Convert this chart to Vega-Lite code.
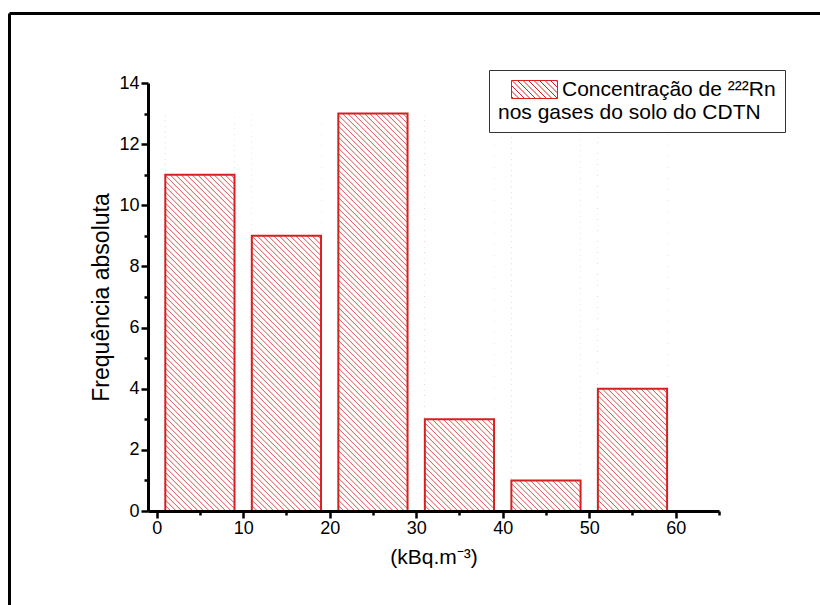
{
  "$schema": "https://vega.github.io/schema/vega-lite/v6.json",
  "width": 811,
  "height": 592,
  "autosize": {"type": "none"},
  "padding": {"left": 9, "top": 13, "right": 0, "bottom": 0},
  "background": "white",
  "data": {
    "values": [
      {"start": 1, "end": 9, "count": 11},
      {"start": 11, "end": 19, "count": 9},
      {"start": 21, "end": 29, "count": 13},
      {"start": 31, "end": 39, "count": 3},
      {"start": 41, "end": 49, "count": 1},
      {"start": 51, "end": 59, "count": 4}
    ]
  },
  "resolve": {
    "scale": {"x": "independent", "y": "independent"},
    "axis": {"x": "independent", "y": "independent"}
  },
  "layer": [
    {
      "mark": {
        "type": "point",
        "shape": "M0 -5.5l5.5 5.5M0 -11l11 11M0 -16.5l16.5 16.5M0 -22l22 22M0 -27.5l27.5 27.5M0 -33l33 33M0 -38.5l38.5 38.5M0 -44l44 44M0 -49.5l49.5 49.5M0 -55l55 55M0 -60.5l60.5 60.5M0 -66l66 66M0 -71.5l69 69M0 -77l69 69M0 -82.5l69 69M0 -88l69 69M0 -93.5l69 69M0 -99l69 69M0 -104.5l69 69M0 -110l69 69M0 -115.5l69 69M0 -121l69 69M0 -126.5l69 69M0 -132l69 69M0 -137.5l69 69M0 -143l69 69M0 -148.5l69 69M0 -154l69 69M0 -159.5l69 69M0 -165l69 69M0 -170.5l69 69M0 -176l69 69M0 -181.5l69 69M0 -187l69 69M0 -192.5l69 69M0 -198l69 69M0 -203.5l69 69M0 -209l69 69M0 -214.5l69 69M0 -220l69 69M0 -225.5l69 69M0 -231l69 69M0 -236.5l69 69M0 -242l69 69M0 -247.5l69 69M0 -253l69 69M0 -258.5l69 69M0 -264l69 69M0 -269.5l69 69M0 -275l69 69M0 -280.5l69 69M0 -286l69 69M0 -291.5l69 69M0 -297l69 69M0 -302.5l69 69M0 -308l69 69M0 -313.5l69 69M0 -319l69 69M0 -324.5l69 69M0 -330l69 69M0 -335.5l69 69M0 -341l69 69M0 -346.5l69 69M0 -352l69 69M0 -357.5l69 69M0 -363l69 69M0 -368.5l69 69M0 -374l69 69M0 -379.5l69 69M0 -385l69 69M0 -390.5l69 69M0 -396l69 69M4.5 -397l64.5 64.5M10 -397l59 59M15.5 -397l53.5 53.5M21 -397l48 48M26.5 -397l42.5 42.5M32 -397l37 37M37.5 -397l31.5 31.5M43 -397l26 26M48.5 -397l20.5 20.5M54 -397l15 15M59.5 -397l9.5 9.5M65 -397l4 4",
        "size": 4,
        "filled": false,
        "stroke": "#d43a3a",
        "strokeWidth": 0.9,
        "opacity": 1
      },
      "encoding": {
        "x": {
          "field": "start",
          "type": "quantitative",
          "scale": {"domain": [-1, 65], "range": [139, 710], "nice": false, "zero": false},
          "axis": null
        },
        "y": {
          "datum": 0,
          "type": "quantitative",
          "scale": {"domain": [0, 14], "range": [498, 70], "nice": false},
          "axis": null
        }
      }
    },
    {
      "mark": {"type": "bar", "fill": "white", "strokeWidth": 0},
      "encoding": {
        "x": {
          "field": "start",
          "type": "quantitative",
          "scale": {"domain": [-1, 65], "range": [139, 710], "nice": false, "zero": false},
          "axis": null
        },
        "x2": {"field": "end"},
        "y": {
          "field": "count",
          "type": "quantitative",
          "scale": {"domain": [0, 14], "range": [498, 70], "nice": false},
          "axis": null
        },
        "y2": {"datum": 14}
      }
    },
    {
      "mark": {"type": "bar", "fill": "white", "fillOpacity": 0, "strokeWidth": 2},
      "encoding": {
        "x": {
          "field": "start",
          "type": "quantitative",
          "scale": {"domain": [-1, 65], "range": [139, 710], "nice": false, "zero": false},
          "axis": {
            "orient": "bottom",
            "offset": -94,
            "zindex": 1,
            "values": [0, 5, 10, 15, 20, 25, 30, 35, 40, 45, 50, 55, 60, 65],
            "labelExpr": "datum.value % 10 === 0 ? datum.label : ''",
            "tickSize": {"condition": {"test": "datum.value % 10 === 0", "value": 7}, "value": 4},
            "tickColor": "black",
            "tickWidth": 2.5,
            "domainColor": "black",
            "domainWidth": 3,
            "labelColor": "black",
            "labelFontSize": 18,
            "labelPadding": 1,
            "labelFlush": false,
            "labelOverlap": false,
            "labelBound": false,
            "title": "(kBq.m⁻³)",
            "titleFontSize": 21,
            "titleFontWeight": "normal",
            "titleColor": "black",
            "titlePadding": 9,
            "grid": false
          }
        },
        "x2": {"field": "end"},
        "y": {
          "field": "count",
          "type": "quantitative",
          "scale": {"domain": [0, 14], "range": [498, 70], "nice": false},
          "axis": {
            "orient": "left",
            "offset": -139,
            "zindex": 1,
            "values": [0, 1, 2, 3, 4, 5, 6, 7, 8, 9, 10, 11, 12, 13, 14],
            "labelExpr": "datum.value % 2 === 0 ? datum.label : ''",
            "tickSize": {"condition": {"test": "datum.value % 2 === 0", "value": 7}, "value": 4},
            "tickColor": "black",
            "tickWidth": 2.5,
            "domainColor": "black",
            "domainWidth": 3,
            "labelColor": "black",
            "labelFontSize": 18,
            "labelPadding": 2,
            "labelOverlap": false,
            "labelBound": false,
            "title": "Frequência absoluta",
            "titleFontSize": 23,
            "titleFontWeight": "normal",
            "titleColor": "black",
            "titlePadding": 5,
            "grid": false
          }
        },
        "y2": {"datum": 0},
        "stroke": {
          "datum": "Concentração de ²²²Rn",
          "type": "nominal",
          "scale": {"range": ["#d62020"]},
          "legend": {
            "orient": "none",
            "legendX": 480,
            "legendY": 57,
            "direction": "vertical",
            "title": "nos gases do solo do CDTN",
            "titleOrient": "bottom",
            "titleAnchor": "start",
            "titleFontSize": 21,
            "titleFontWeight": "normal",
            "titleColor": "black",
            "titlePadding": 1,
            "titleLimit": 600,
            "labelFontSize": 21,
            "labelColor": "black",
            "labelOffset": 43,
            "labelLimit": 600,
            "symbolType": "M3 -9h46v18h-46ZM3 7l2 2M3 1.5l7.5 7.5M3 -4l13 13M3.5 -9l18 18M9 -9l18 18M14.5 -9l18 18M20 -9l18 18M25.5 -9l18 18M31 -9l18 18M36.5 -9l12.5 12.5M42 -9l7 7M47.5 -9l1.5 1.5",
            "symbolSize": 4,
            "symbolStrokeWidth": 1,
            "symbolFillColor": "transparent",
            "symbolOpacity": 1,
            "strokeColor": "#333333",
            "fillColor": "white",
            "padding": 9,
            "zindex": 1
          }
        }
      }
    },
    {
      "mark": {"type": "point", "opacity": 0},
      "encoding": {
        "x": {
          "datum": 0,
          "type": "quantitative",
          "scale": {"domain": [0, 1], "range": [0, 811], "nice": false, "zero": false},
          "axis": {"orient": "top", "offset": 0, "domain": true, "domainColor": "black", "domainWidth": 3, "ticks": false, "labels": false, "title": null, "grid": false}
        },
        "y": {
          "datum": 0,
          "type": "quantitative",
          "scale": {"domain": [0, 1], "range": [592, 0], "nice": false, "zero": false},
          "axis": {"orient": "left", "offset": 0, "domain": true, "domainColor": "black", "domainWidth": 3, "ticks": false, "labels": false, "title": null, "grid": false}
        }
      }
    }
  ],
  "config": {
    "font": "Liberation Sans",
    "view": {"stroke": null},
    "axis": {"grid": false}
  }
}
